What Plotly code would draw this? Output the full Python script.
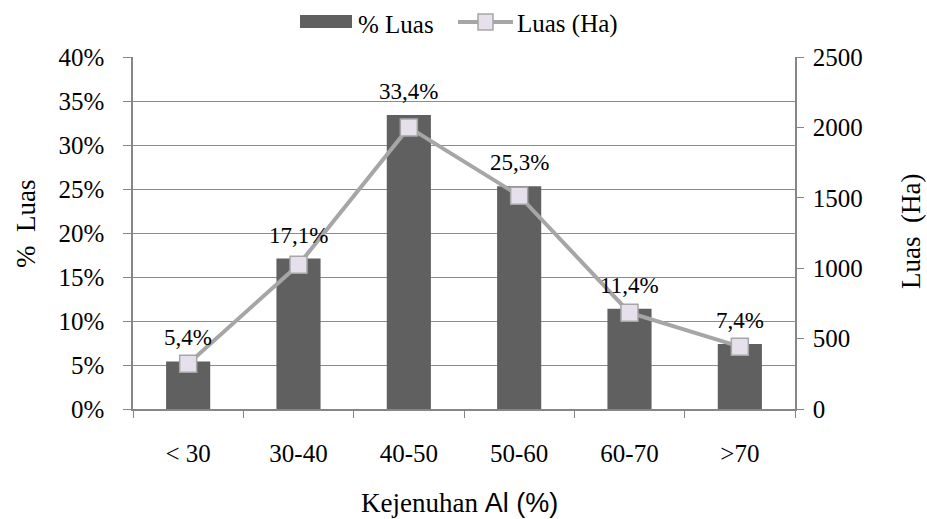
import plotly.graph_objects as go

categories = ["< 30", "30-40", "40-50", "50-60", "60-70", ">70"]
pct_luas = [5.4, 17.1, 33.4, 25.3, 11.4, 7.4]
luas_ha = [322, 1024, 2000, 1515, 684, 443]
left_ticks = [0, 5, 10, 15, 20, 25, 30, 35, 40]
right_ticks = [0, 500, 1000, 1500, 2000, 2500]

FONT = "Liberation Serif, Times New Roman, serif"
SANS = "Liberation Sans, Arial, sans-serif"
BAR = "#606060"
LINE = "#A6A6A6"
MARK = "#E6E0EC"
AXIS = "#868686"
TICK_SIZE = 25
LABEL_SIZE = 23
TITLE_SIZE = 27

fig = go.Figure()
fig.add_trace(go.Bar(
    x=categories, y=pct_luas, name="% Luas",
    marker=dict(color=BAR, line=dict(width=0)), width=0.4,
    showlegend=False, hoverinfo="skip",
))
fig.add_trace(go.Scatter(
    x=categories, y=luas_ha, name="Luas (Ha)", yaxis="y2",
    mode="lines+markers",
    line=dict(color=LINE, width=4),
    marker=dict(symbol="square", size=17, color=MARK, line=dict(color=LINE, width=1.5)),
    showlegend=False,
))

for c, v in zip(categories, pct_luas):
    fig.add_annotation(
        x=c, y=v, xref="x", yref="y",
        text=f"{v:.1f}%".replace(".", ","),
        showarrow=False, yanchor="bottom", yshift=9,
        font=dict(family=FONT, size=LABEL_SIZE, color="#000"),
    )


def px(x):
    return (x - 133) / 662


def py(y):
    return (409 - y) / 352


# manual legend
fig.add_shape(type="rect", xref="paper", yref="paper",
              x0=px(300), x1=px(352), y0=py(28), y1=py(15),
              fillcolor=BAR, line=dict(width=0))
fig.add_annotation(xref="paper", yref="paper", x=px(356), y=py(24),
                   xanchor="left", yanchor="middle", showarrow=False,
                   text="% Luas", font=dict(family=FONT, size=TICK_SIZE, color="#000"))
fig.add_shape(type="line", xref="paper", yref="paper",
              x0=px(458), x1=px(513), y0=py(22), y1=py(22),
              line=dict(color=LINE, width=4))
fig.add_shape(type="rect", xref="paper", yref="paper",
              x0=px(478), x1=px(493), y0=py(30), y1=py(14),
              fillcolor=MARK, line=dict(color=LINE, width=1.5))
fig.add_annotation(xref="paper", yref="paper", x=px(515), y=py(24),
                   xanchor="left", yanchor="middle", showarrow=False,
                   text="Luas (Ha)", font=dict(family=FONT, size=TICK_SIZE, color="#000"))

# axis titles
fig.add_annotation(xref="paper", yref="paper", x=px(459), y=py(503),
                   xanchor="center", yanchor="middle", showarrow=False,
                   text="Kejenuhan <span style=\"font-family:Liberation Sans, Arial, sans-serif\">Al (%)</span>",
                   font=dict(family=FONT, size=TITLE_SIZE, color="#000"))
fig.add_annotation(xref="paper", yref="paper", x=px(26), y=py(224),
                   xanchor="center", yanchor="middle", showarrow=False, textangle=-90,
                   text="%  Luas", font=dict(family=FONT, size=TITLE_SIZE, color="#000"))
fig.add_annotation(xref="paper", yref="paper", x=px(911), y=py(232),
                   xanchor="center", yanchor="middle", showarrow=False, textangle=-90,
                   text="Luas  (Ha)", font=dict(family=FONT, size=TITLE_SIZE, color="#000"))

fig.update_layout(
    width=927, height=519,
    margin=dict(l=133, r=132, t=57, b=110),
    paper_bgcolor="white", plot_bgcolor="white",
    font=dict(family=FONT, size=TICK_SIZE, color="#000"),
    xaxis=dict(
        type="category", showline=True, linecolor=AXIS, linewidth=1.5,
        ticks="outside", tickson="boundaries", ticklen=7, tickcolor=AXIS,
        tickfont=dict(family=FONT, size=TICK_SIZE),
        ticklabelstandoff=21,
        showgrid=False,
    ),
    yaxis=dict(
        range=[0, 40], tickvals=left_ticks, ticktext=[f"{t}%" for t in left_ticks],
        showline=True, linecolor=AXIS, linewidth=1.5,
        ticks="outside", ticklen=8, tickcolor=AXIS,
        showgrid=True, gridcolor="#8C8C8C", gridwidth=1.2,
        zeroline=False,
        tickfont=dict(family=FONT, size=TICK_SIZE),
        ticklabelstandoff=14,
    ),
    yaxis2=dict(
        range=[0, 2500], tickvals=right_ticks, overlaying="y", side="right",
        showline=True, linecolor=AXIS, linewidth=1.5,
        ticks="outside", ticklen=7, tickcolor=AXIS,
        showgrid=False, zeroline=False,
        tickfont=dict(family=FONT, size=TICK_SIZE),
        ticklabelstandoff=4,
    ),
)

fig.write_html("out.html", config={"displayModeBar": False},
               post_script="document.body.style.margin='0';")
